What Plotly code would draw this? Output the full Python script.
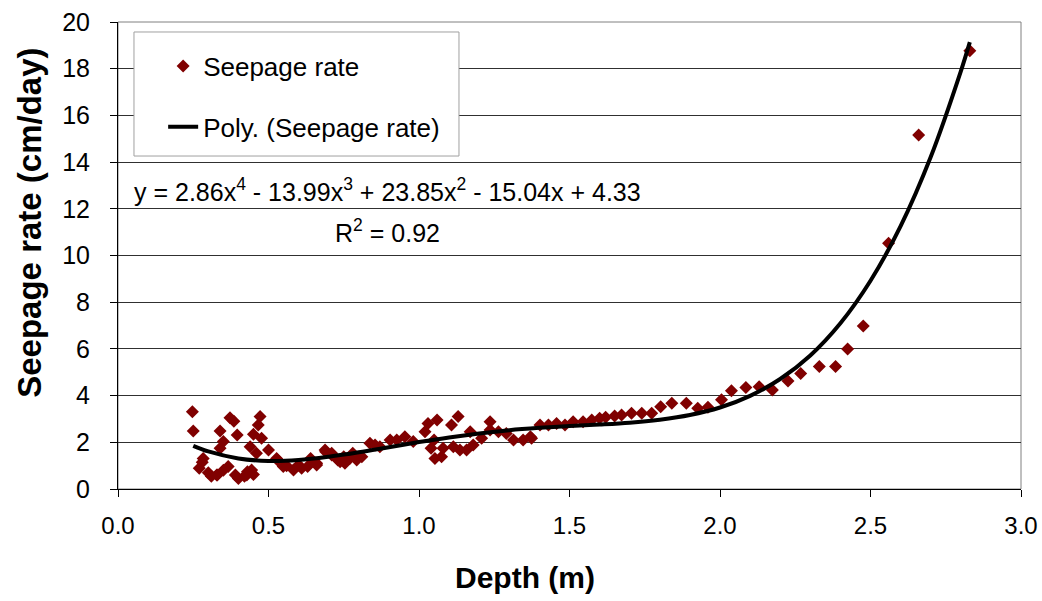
import plotly.graph_objects as go

depth = [0.247, 0.25, 0.27, 0.28, 0.283, 0.30, 0.31, 0.328, 0.33, 0.339, 0.339, 0.35,
         0.35, 0.366, 0.372, 0.385, 0.39, 0.396, 0.40, 0.42, 0.428, 0.43, 0.439, 0.444,
         0.45, 0.45, 0.46, 0.466, 0.472, 0.477, 0.50, 0.527, 0.53, 0.549, 0.56, 0.583,
         0.60, 0.61, 0.63, 0.64, 0.66, 0.66, 0.688, 0.69, 0.71, 0.71, 0.73, 0.738,
         0.75, 0.754, 0.77, 0.78, 0.793, 0.81, 0.837, 0.854, 0.87, 0.904, 0.926, 0.953,
         0.981, 1.02, 1.03, 1.04, 1.05, 1.053, 1.06, 1.075, 1.08, 1.108, 1.114, 1.13,
         1.136, 1.158, 1.17, 1.18, 1.208, 1.236, 1.236, 1.264, 1.29, 1.314, 1.346, 1.37,
         1.374, 1.402, 1.43, 1.457, 1.485, 1.512, 1.545, 1.574, 1.60, 1.62, 1.65, 1.673,
         1.706, 1.74, 1.773, 1.803, 1.84, 1.888, 1.926, 1.96, 2.005, 2.038, 2.086, 2.13,
         2.174, 2.226, 2.268, 2.33, 2.384, 2.424, 2.476, 2.56, 2.66, 2.83]
seepage = [3.31, 2.48, 0.89, 1.15, 1.31, 0.70, 0.55, 0.60, 0.60, 2.48, 1.74, 2.03,
           0.80, 0.96, 3.05, 2.90, 0.60, 2.31, 0.45, 0.55, 0.60, 0.74, 1.81, 0.81,
           2.34, 0.62, 1.53, 2.74, 3.10, 2.17, 1.67, 1.31, 1.24, 0.96, 1.00, 0.81,
           1.03, 0.89, 0.96, 1.31, 1.10, 1.03, 1.67, 1.60, 1.53, 1.46, 1.24, 1.17,
           1.38, 1.10, 1.31, 1.53, 1.24, 1.38, 1.96, 1.88, 1.81, 2.10, 2.10, 2.24,
           2.03, 2.45, 2.81, 1.74, 2.10, 1.31, 2.96, 1.38, 1.74, 2.74, 1.81, 3.10,
           1.67, 1.67, 2.45, 1.88, 2.17, 2.88, 2.53, 2.45, 2.38, 2.10, 2.10, 2.24,
           2.17, 2.74, 2.74, 2.81, 2.74, 2.88, 2.88, 2.96, 3.03, 3.07, 3.13, 3.17,
           3.24, 3.24, 3.24, 3.52, 3.67, 3.67, 3.46, 3.50, 3.82, 4.21, 4.35, 4.38,
           4.24, 4.63, 4.95, 5.25, 5.25, 6.00, 6.98, 10.52, 15.16, 18.77]

# polynomial trend line
trend_x = [0.25, 0.3, 0.4, 0.5, 0.6, 0.7, 0.8, 0.9, 1.0, 1.1, 1.2, 1.3, 1.4, 1.5,
           1.6, 1.7, 1.8, 1.9, 2.0, 2.1, 2.2, 2.3, 2.4, 2.5, 2.6, 2.7, 2.8, 2.83]
trend_y = [1.85, 1.61, 1.31, 1.20, 1.24, 1.38, 1.57, 1.79, 2.01, 2.21, 2.38, 2.52,
           2.62, 2.70, 2.76, 2.84, 2.97, 3.17, 3.49, 3.99, 4.71, 5.72, 7.10, 8.92,
           11.26, 14.22, 17.89, 19.14]

x_ticks = [0.0, 0.5, 1.0, 1.5, 2.0, 2.5, 3.0]
y_ticks = [0, 2, 4, 6, 8, 10, 12, 14, 16, 18, 20]

FONT = "Liberation Sans, Arial, sans-serif"

fig = go.Figure()

fig.add_trace(go.Scatter(
    x=depth, y=seepage, mode="markers", name="Seepage rate",
    legendgroup="a",
    marker=dict(symbol="diamond", size=10, color="#800000"),
))
fig.add_trace(go.Scatter(
    x=trend_x, y=trend_y, mode="lines", name="Poly. (Seepage rate)",
    legendgroup="b",
    line=dict(color="black", width=4, shape="spline"),
))

# legend frame
fig.add_shape(type="rect", xref="paper", yref="paper",
              x0=0.0177, x1=0.3776, y0=0.713, y1=0.9786,
              line=dict(color="#a0a0a0", width=1), fillcolor="white", layer="above")
# right / top border of plot area
fig.add_shape(type="rect", xref="paper", yref="paper", x0=0, x1=1, y0=0, y1=1,
              line=dict(color="#808080", width=1), layer="below")

fig.add_annotation(
    text="y = 2.86x<sup>4</sup> - 13.99x<sup>3</sup> + 23.85x<sup>2</sup> - 15.04x + 4.33",
    xref="paper", yref="paper", x=0.298, y=0.640, xanchor="center", yanchor="middle",
    showarrow=False, font=dict(size=25, color="black", family=FONT),
)
fig.add_annotation(
    text="R<sup>2</sup> = 0.92",
    xref="paper", yref="paper", x=0.298, y=0.553, xanchor="center", yanchor="middle",
    showarrow=False, font=dict(size=25, color="black", family=FONT),
)

# axis titles
fig.add_annotation(
    text="<b>Seepage rate (cm/day)</b>", textangle=-90,
    xref="paper", yref="paper", x=-0.0975, y=0.57, xanchor="center", yanchor="middle",
    showarrow=False, font=dict(size=33, color="black", family=FONT),
)
fig.add_annotation(
    text="<b>Depth (m)</b>",
    xref="paper", yref="paper", x=0.451, y=-0.19, xanchor="center", yanchor="middle",
    showarrow=False, font=dict(size=30, color="black", family=FONT),
)

fig.update_layout(
    width=1042, height=601,
    margin=dict(l=118, r=21, t=22, b=112),
    paper_bgcolor="white", plot_bgcolor="white",
    font=dict(family=FONT, size=24, color="black"),
    showlegend=True,
    legend=dict(
        x=0.050, y=0.956, xanchor="left", yanchor="top",
        bgcolor="rgba(0,0,0,0)", borderwidth=0,
        font=dict(size=26, family=FONT),
        tracegroupgap=24, traceorder="grouped",
    ),
    xaxis=dict(
        range=[0, 3.0], tickvals=x_ticks, ticktext=[f"{v:.1f}" for v in x_ticks],
        showgrid=False, zeroline=False, automargin=False,
        showline=True, linecolor="black", linewidth=1,
        ticks="outside", ticklen=7, tickcolor="black",
        ticklabelstandoff=8, ticklabeloverflow="allow",
        tickfont=dict(size=24),
    ),
    yaxis=dict(
        range=[0, 20], tickvals=y_ticks,
        showgrid=True, gridcolor="#303030", gridwidth=1, zeroline=False,
        automargin=False,
        showline=True, linecolor="black", linewidth=1,
        ticks="outside", ticklen=7, tickcolor="black",
        ticklabelstandoff=15, ticklabeloverflow="allow",
        tickfont=dict(size=25),
    ),
)

# drop the default body margin so the figure fills the window exactly
fig.write_html("out.html",
               config={"displayModeBar": False},
               post_script="document.body.style.margin='0';document.body.style.overflow='hidden';")
